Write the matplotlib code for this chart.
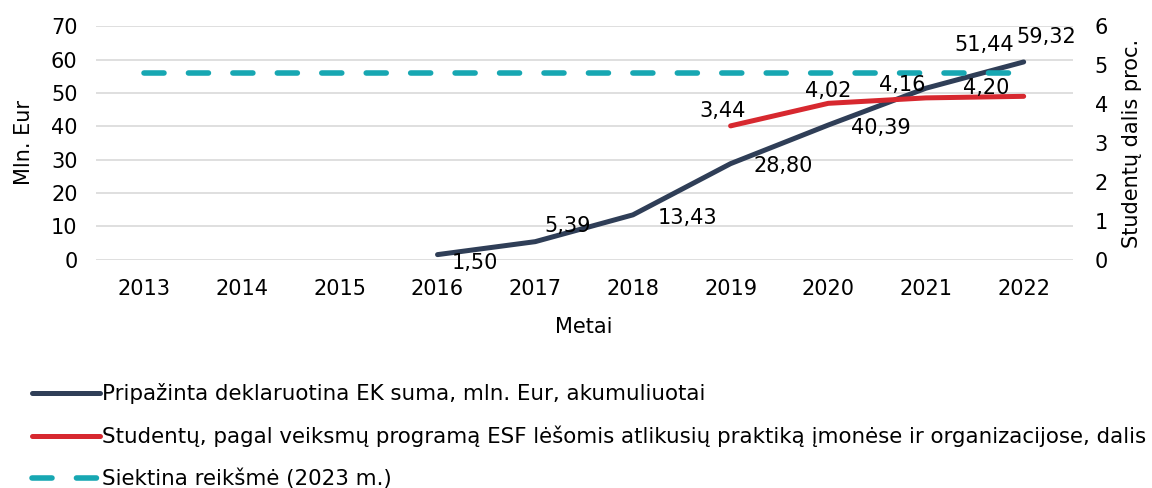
import matplotlib
matplotlib.use('Agg')
import matplotlib.pyplot as plt

# Data
years = [2013, 2014, 2015, 2016, 2017, 2018, 2019, 2020, 2021, 2022]
ek_years = [2016, 2017, 2018, 2019, 2020, 2021, 2022]
ek_sum = [1.50, 5.39, 13.43, 28.80, 40.39, 51.44, 59.32]
stud_years = [2019, 2020, 2021, 2022]
stud_share = [3.44, 4.02, 4.16, 4.20]
target_value = 4.8

NAVY = '#2f3e57'
RED = '#d7282f'
TEAL = '#17a7b2'

plt.rcParams['font.family'] = ['DejaVu Sans']
plt.rcParams['font.size'] = 15

fig = plt.figure(figsize=(11.52, 4.88), dpi=100)
ax = fig.add_axes([0.083, 0.468, 0.848, 0.478])
ax2 = ax.twinx()

xpos = {y: i for i, y in enumerate(years)}
ek_x = [xpos[y] for y in ek_years]
st_x = [xpos[y] for y in stud_years]

l1, = ax.plot(ek_x, ek_sum, color=NAVY, lw=3.6, solid_capstyle='round',
              label='Pripažinta deklaruotina EK suma, mln. Eur, akumuliuotai', zorder=3)
l2, = ax2.plot(st_x, stud_share, color=RED, lw=3.6, solid_capstyle='round',
               label='Studentų, pagal veiksmų programą ESF lėšomis atlikusių praktiką įmonėse ir organizacijose, dalis', zorder=3)
l3, = ax2.plot(range(len(years)), [target_value] * len(years), color=TEAL, lw=4,
               dashes=(3.6, 4.4), dash_capstyle='round',
               label='Siektina reikšmė (2023 m.)', zorder=2)

ax.set_xlim(-0.5, len(years) - 0.5)
ax.set_ylim(0, 70)
ax2.set_ylim(0, 6)
ax.set_yticks(range(0, 71, 10))
ax2.set_yticks(range(0, 7))
ax.set_xticks(range(len(years)))
ax.set_xticklabels([str(y) for y in years])
ax.grid(True, axis='y', color='#d9d9d9', lw=1.2)
ax.set_axisbelow(True)
for a in (ax, ax2):
    for s in a.spines.values():
        s.set_visible(False)
    a.tick_params(length=0)
ax.tick_params(axis='x', pad=14)
ax.tick_params(axis='y', pad=13)
ax2.tick_params(axis='y', pad=16)
ax.set_xlabel('Metai', labelpad=13)
ax.set_ylabel('Mln. Eur', labelpad=12)
ax2.set_ylabel('Studentų dalis proc.', labelpad=10)

def fmt(v):
    return f'{v:.2f}'.replace('.', ',')

# label offsets in points
ek_off = [(27, -6), (23, 11), (39, -2), (38, -1.5), (38, -2), (42, 31), (16, 18)]
for x, v, (dx, dy) in zip(ek_x, ek_sum, ek_off):
    ax.annotate(fmt(v), (x, v), xytext=(dx, dy), textcoords='offset points',
                ha='center', va='center', zorder=5)
st_off = [(-6, 11), (0, 9), (-17, 9), (-27, 6)]
for x, v, (dx, dy) in zip(st_x, stud_share, st_off):
    ax2.annotate(fmt(v), (x, v), xytext=(dx, dy), textcoords='offset points',
                 ha='center', va='center', zorder=5)

fig.legend(handles=[l1, l2, l3], loc='upper left', bbox_to_anchor=(0.02, 0.232),
           frameon=False, handlelength=3.2, handletextpad=0.1, labelspacing=1.0,
           borderaxespad=0, fontsize=15.4)

fig.savefig('out.png', dpi=100)
